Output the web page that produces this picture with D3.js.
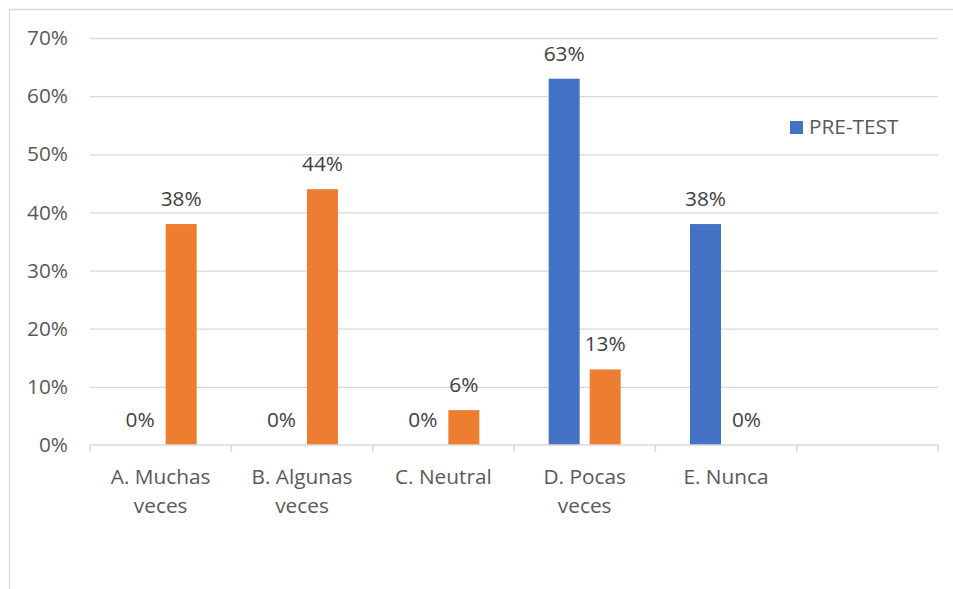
<!DOCTYPE html>
<html>
<head>
<meta charset="utf-8">
<script src="https://cdn.jsdelivr.net/npm/d3@7"></script>
<style>
  body { margin: 0; background: #fff; }
  svg { display: block; font-family: "Open Sans", sans-serif; }
</style>
</head>
<body>
<div id="chart"></div>
<script>
// Chart data
const categories = ["A. Muchas veces", "B. Algunas veces", "C. Neutral", "D. Pocas veces", "E. Nunca", ""];
const series = ["PRE-TEST", "POST-TEST"];
const preTest = [0, 0, 0, 63, 38, null];
const postTest = [38, 44, 6, 13, 0, null];
const yTicks = [0, 10, 20, 30, 40, 50, 60, 70];
const colors = ["#4472C4", "#ED7D31"];

const width = 953, height = 589;
const margin = { top: 38, right: 15, bottom: 144, left: 90 };
const innerW = width - margin.left - margin.right;
const innerH = height - margin.top - margin.bottom;
const fontSize = "20.8px";

const svg = d3.select("#chart").append("svg")
    .attr("width", width)
    .attr("height", height);

// Outer chart border (cropped on right and bottom)
svg.append("path")
    .attr("d", `M9.5,${height} V9.5 H${width}`)
    .attr("fill", "none")
    .attr("stroke", "#d9d9d9")
    .attr("stroke-width", 1.3);

const g = svg.append("g").attr("transform", `translate(${margin.left},${margin.top})`);

const x0 = d3.scaleBand().domain(categories).range([0, innerW]).padding(0);
const x1 = d3.scaleBand().domain(series).range([0, x0.bandwidth()])
    .paddingInner(0.244).paddingOuter(0.846);
const y = d3.scaleLinear().domain([0, 70]).range([innerH, 0]);

// Gridlines + y labels
g.append("g")
    .call(d3.axisLeft(y).tickValues(yTicks).tickSize(-innerW).tickFormat(d => d + "%").tickPadding(22))
    .call(a => a.select(".domain").remove())
    .call(a => a.selectAll(".tick line").attr("stroke", "#d9d9d9").attr("stroke-width", 1.3))
    .call(a => a.selectAll(".tick line").filter(d => d === 0).remove())
    .call(a => a.selectAll(".tick text").attr("fill", "#595959").style("font-size", fontSize)
        .style("font-family", "'Open Sans', sans-serif"));

// Bars
const rows = categories.map((c, i) => ({ cat: c, vals: [preTest[i], postTest[i]] }));
const groups = g.selectAll(".cat")
    .data(rows)
    .enter().append("g")
    .attr("transform", d => `translate(${x0(d.cat)},0)`);

groups.selectAll("rect")
    .data(d => d.vals.map((v, k) => ({ s: series[k], v, k })).filter(e => e.v !== null))
    .enter().append("rect")
    .attr("x", e => x1(e.s))
    .attr("width", x1.bandwidth())
    .attr("y", e => y(e.v))
    .attr("height", e => innerH - y(e.v))
    .attr("fill", e => colors[e.k]);

groups.selectAll("text.val")
    .data(d => d.vals.map((v, k) => ({ s: series[k], v, k })).filter(e => e.v !== null))
    .enter().append("text")
    .attr("class", "val")
    .attr("x", e => x1(e.s) + x1.bandwidth() / 2)
    .attr("y", e => y(e.v) - 18)
    .attr("text-anchor", "middle")
    .attr("fill", "#404040")
    .style("font-size", fontSize)
    .text(e => e.v + "%");

// X axis line and boundary ticks
const xAxis = g.append("g").attr("transform", `translate(0,${innerH})`);
xAxis.append("line")
    .attr("x1", 0).attr("x2", innerW)
    .attr("stroke", "#d9d9d9").attr("stroke-width", 1.5);
const bounds = categories.map(c => x0(c)).concat([innerW]);
xAxis.selectAll("line.tk")
    .data(bounds)
    .enter().append("line")
    .attr("class", "tk")
    .attr("x1", d => d).attr("x2", d => d)
    .attr("y1", 0).attr("y2", 7)
    .attr("stroke", "#d9d9d9").attr("stroke-width", 1.5);

// Category labels (two lines)
const labels = xAxis.selectAll("text.cat")
    .data(categories)
    .enter().append("text")
    .attr("class", "cat")
    .attr("text-anchor", "middle")
    .attr("fill", "#595959")
    .style("font-size", fontSize)
    .attr("transform", d => `translate(${x0(d) + x0.bandwidth() / 2},0)`);

labels.each(function(d) {
    const words = d.split(" ");
    let lines = [d];
    if (words.length > 2) lines = [words.slice(0, 2).join(" "), words.slice(2).join(" ")];
    d3.select(this).selectAll("tspan")
        .data(lines)
        .enter().append("tspan")
        .attr("x", 0)
        .attr("y", (l, i) => 39 + i * 29)
        .text(l => l);
});

// Legend
const legend = svg.append("g").attr("transform", "translate(790,121)");
legend.append("rect").attr("width", 13).attr("height", 13).attr("fill", colors[0]);
legend.append("text")
    .attr("x", 19).attr("y", 13)
    .attr("fill", "#595959")
    .style("font-size", fontSize)
    .text(series[0]);
</script>
</body>
</html>
